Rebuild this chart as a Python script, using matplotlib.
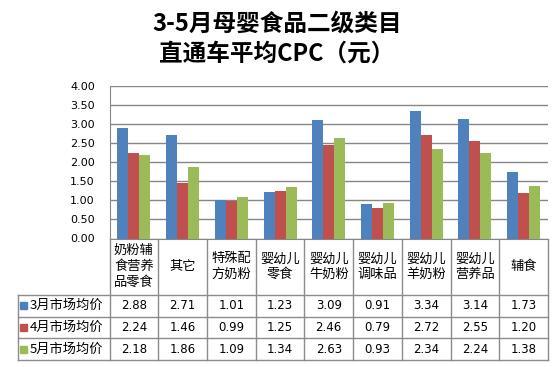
import numpy as np
import matplotlib.pyplot as plt
from matplotlib.patches import Rectangle

plt.rcParams['font.family'] = ['Noto Sans CJK SC', 'DejaVu Sans']

# ==========================
# DATA
# ==========================

categories = ["奶粉辅\n食营养\n品零食", "其它", "特殊配\n方奶粉", "婴幼儿\n零食",
              "婴幼儿\n牛奶粉", "婴幼儿\n调味品", "婴幼儿\n羊奶粉", "婴幼儿\n营养品", "辅食"]
series_names = ["3月市场均价", "4月市场均价", "5月市场均价"]
march = [2.88, 2.71, 1.01, 1.23, 3.09, 0.91, 3.34, 3.14, 1.73]
april = [2.24, 1.46, 0.99, 1.25, 2.46, 0.79, 2.72, 2.55, 1.20]
may = [2.18, 1.86, 1.09, 1.34, 2.63, 0.93, 2.34, 2.24, 1.38]
yticks = [0, 0.5, 1.0, 1.5, 2.0, 2.5, 3.0, 3.5, 4.0]

colors = ["#4F81BD", "#C0504D", "#9BBB59"]
grid_c = "#868686"

# ==========================
# LAYOUT (pixels)
# ==========================

W, H = 559, 367
L = 17.5        # table left edge
X0 = 109.5      # plot left
X1 = 548.0      # plot right
Y_TOP = 85.7    # 4.00 gridline
Y_AX = 238.5    # 0.00 line
Y_HEAD = 295.0
Y_END = 360.0

fig = plt.figure(figsize=(W / 100, H / 100), dpi=100)

ax = fig.add_axes([X0 / W, 1 - Y_AX / H, (X1 - X0) / W, (Y_AX - Y_TOP) / H])

series = [march, april, may]
n = len(categories)
x = np.arange(n)
bw = 0.226
for k, vals in enumerate(series):
    ax.bar(x + (k - 1) * bw, vals, width=bw, color=colors[k], zorder=3)

ax.set_xlim(-0.5, n - 0.5)
ax.set_ylim(0, 4)
ax.set_yticks(yticks)
ax.set_yticklabels([f"{v:.2f}" for v in yticks], family="DejaVu Sans", fontsize=8)
ax.set_xticks([])
ax.yaxis.grid(True, color=grid_c, linewidth=1)
ax.set_axisbelow(True)
for s in ["top", "right"]:
    ax.spines[s].set_visible(False)
for s in ["left", "bottom"]:
    ax.spines[s].set_color(grid_c)
ax.tick_params(axis="y", length=0, pad=10.5)

# ==========================
# TITLE
# ==========================

fig.text(277, H - 23.5, "3-5月母婴食品二级类目", ha="center", va="center",
         fontsize=17, fontweight="bold", transform=None)
fig.text(277, H - 54, "直通车平均CPC（元）", ha="center", va="center",
         fontsize=17, fontweight="bold", transform=None)

# ==========================
# DATA TABLE
# ==========================

tb = fig.add_axes([0, 0, 1, 1])
tb.set_xlim(0, W)
tb.set_ylim(H, 0)
tb.axis("off")

cw = (X1 - X0) / n
rh = (Y_END - Y_HEAD) / 3
lc = "#8C8C8C"

for i in range(n + 1):
    xx = X0 + i * cw
    tb.plot([xx, xx], [Y_AX, Y_END], color=lc, lw=1)
tb.plot([L, L], [Y_HEAD, Y_END], color=lc, lw=1)
for r in range(4):
    yy = Y_HEAD + r * rh
    tb.plot([L, X1], [yy, yy], color=lc, lw=1)

for i, cat in enumerate(categories):
    tb.text(X0 + (i + 0.5) * cw, (Y_AX + Y_HEAD) / 2, cat, ha="center", va="center",
            fontsize=9.5, linespacing=1.3)

for r, (name, vals) in enumerate(zip(series_names, series)):
    yc = Y_HEAD + (r + 0.5) * rh
    tb.add_patch(Rectangle((20, yc - 3.5), 7, 7, color=colors[r]))
    tb.text(29.5, yc, name, ha="left", va="center", fontsize=9.5)
    for i, v in enumerate(vals):
        tb.text(X0 + (i + 0.5) * cw, yc, f"{v:.2f}", ha="center", va="center",
                fontsize=8.5, family="DejaVu Sans")

fig.savefig("out.png", dpi=100)
